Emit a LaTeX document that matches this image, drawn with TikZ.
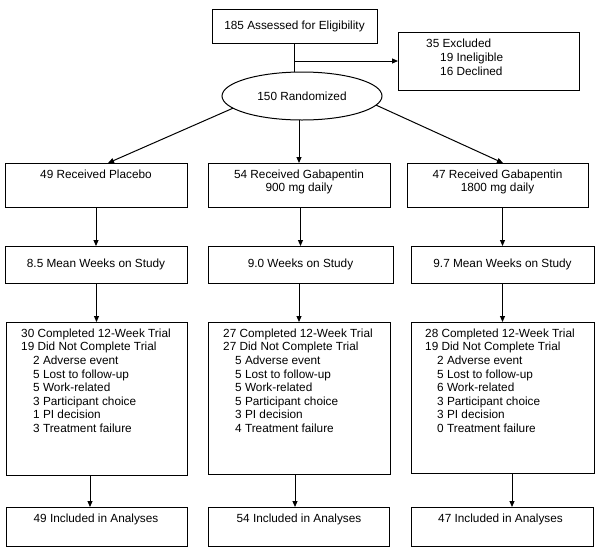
\documentclass[tikz,border=0pt]{standalone}
\usepackage{fontspec}
\setmainfont{Liberation Sans}
\usetikzlibrary{shapes.geometric,arrows.meta,calc}
\begin{document}
\begin{tikzpicture}[x=1pt,y=-1pt,
  font=\fontsize{11.8}{13.6}\selectfont,
  box/.style={draw, line width=1pt, inner sep=0pt, outer sep=0pt},
  txt/.style={inner sep=0pt, align=center, anchor=north},
  ltxt/.style={inner sep=0pt, align=left, anchor=north west},
  arr/.style={line width=1pt, -{Triangle[length=6pt,width=5pt]}},
  ln/.style={line width=1pt}]
\useasboundingbox (0,0) rectangle (601,555);

% top
\node[box, minimum width=165, minimum height=34] (top) at (294.5,26) {185 Assessed for Eligibility};
\node[box, minimum width=181, minimum height=58] (excl) at (488.5,61) {};
\node[ltxt, font=\fontsize{11.8}{14}\selectfont] (excltxt) at (426,38.5) {35 Excluded\\\hspace*{14pt}19 Ineligible\\\hspace*{14pt}16 Declined};
\node[box, ellipse, minimum width=160, minimum height=48] (rand) at (302,96) {150 Randomized};

% row 1
\node[box, minimum width=182, minimum height=44] (p1) at (96,185) {};
\node[box, minimum width=182, minimum height=44] (m1) at (299,185) {};
\node[box, minimum width=181, minimum height=44] (r1) at (497.5,185) {};
\node[txt] (p1t) at (96,169.5) {49 Received Placebo};
\node[txt] (m1t) at (299,169.5) {54 Received Gabapentin\\900 mg daily};
\node[txt] (r1t) at (497.5,169.5) {47 Received Gabapentin\\1800 mg daily};

% row 2
\node[box, minimum width=182, minimum height=37] (p2) at (96,264.5) {8.5 Mean Weeks on Study};
\node[box, minimum width=185, minimum height=37] (m2) at (300.5,264.5) {9.0 Weeks on Study};
\node[box, minimum width=183, minimum height=37] (r2) at (502.5,264.5) {9.7 Mean Weeks on Study};

% row 3
\node[box, minimum width=181, minimum height=153] (p3) at (96.5,398.5) {};
\node[box, minimum width=182, minimum height=152] (m3) at (299,398) {};
\node[box, minimum width=183, minimum height=151] (r3) at (502.5,397.5) {};
\node[ltxt] (p3t) at (21,328.5) {30 Completed 12-Week Trial\\19 Did Not Complete Trial\\
\hspace*{12pt}2 Adverse event\\\hspace*{12pt}5 Lost to follow-up\\\hspace*{12pt}5 Work-related\\
\hspace*{12pt}3 Participant choice\\\hspace*{12pt}1 PI decision\\\hspace*{12pt}3 Treatment failure};
\node[ltxt] (m3t) at (223,328.5) {27 Completed 12-Week Trial\\27 Did Not Complete Trial\\
\hspace*{12pt}5 Adverse event\\\hspace*{12pt}5 Lost to follow-up\\\hspace*{12pt}5 Work-related\\
\hspace*{12pt}5 Participant choice\\\hspace*{12pt}3 PI decision\\\hspace*{12pt}4 Treatment failure};
\node[ltxt] (r3t) at (425,328.5) {28 Completed 12-Week Trial\\19 Did Not Complete Trial\\
\hspace*{12pt}2 Adverse event\\\hspace*{12pt}5 Lost to follow-up\\\hspace*{12pt}6 Work-related\\
\hspace*{12pt}3 Participant choice\\\hspace*{12pt}3 PI decision\\\hspace*{12pt}0 Treatment failure};

% row 4
\node[box, minimum width=181, minimum height=39] (p4) at (96.5,526.5) {};
\node[box, minimum width=181, minimum height=39] (m4) at (298.5,526.5) {};
\node[box, minimum width=182, minimum height=39] (r4) at (502,526.5) {};
\node[txt] (p4t) at (96,513.5) {49 Included in Analyses};
\node[txt] (m4t) at (299,513.5) {54 Included in Analyses};
\node[txt] (r4t) at (500.5,513.5) {47 Included in Analyses};

% connectors
\draw[ln] (top.south) -- (top.south |- rand.north);
\draw[arr] (top.south |- excl.west) -- (excl.west);
\draw[arr] (rand.190) -- ($(p1.north)+(12,0)$);
\draw[arr] (m1.north |- rand.south) -- (m1.north);
\draw[arr] (rand.353) -- ($(r1.north)+(5.5,0)$);

\draw[arr] (p2.north |- p1.south) -- (p2.north);
\draw[arr] (m2.north |- m1.south) -- (m2.north);
\draw[arr] (r2.north |- r1.south) -- (r2.north);

\draw[arr] (p3.north |- p2.south) -- (p3.north);
\draw[arr] (m3.north |- m2.south) -- (m3.north);
\draw[arr] (r3.north |- r2.south) -- (r3.north);

\draw[arr] ($(p3.south)+(-6.5,0)$) -- ($(p4.north)+(-6.5,0)$);
\draw[arr] ($(m3.south)+(-4,0)$) -- ($(m4.north)+(-3.5,0)$);
\draw[arr] ($(r3.south)+(9.5,0)$) -- ($(r4.north)+(10,0)$);
\end{tikzpicture}
\end{document}
